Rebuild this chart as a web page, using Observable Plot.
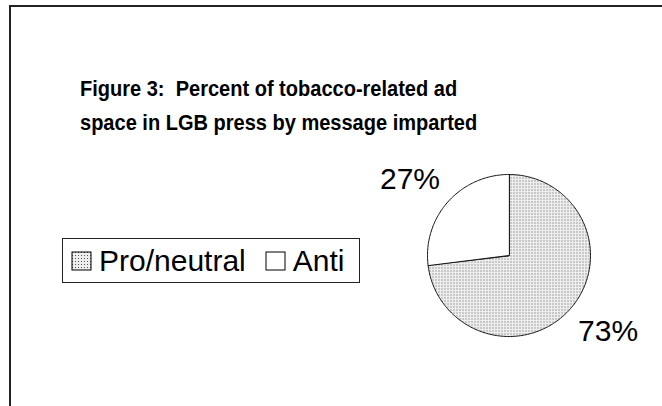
<!DOCTYPE html>
<html><head><meta charset="utf-8">
<script src="https://cdn.jsdelivr.net/npm/d3@7"></script>
<script src="https://cdn.jsdelivr.net/npm/@observablehq/plot@0.6"></script>
<style>
html,body{margin:0;padding:0;background:#fff;overflow:hidden;}
#wrap{position:relative;width:662px;height:406px;font-family:"Liberation Sans",Arial,sans-serif;}
#wrap > svg{position:absolute;left:0;top:0;}
#frame{position:absolute;left:9px;top:5px;width:700px;height:450px;border-top:2px solid #222;border-left:2px solid #222;box-sizing:border-box;}
#title{position:absolute;left:80px;top:72px;font-weight:bold;font-size:22px;line-height:34px;white-space:pre;color:#000;transform:scaleX(0.91);transform-origin:0 0;}
#legendbox{position:absolute;left:62px;top:238px;width:298px;height:45px;border:1px solid #222;box-sizing:border-box;padding-left:9px;overflow:visible;}
#legendbox > div{position:absolute;left:9px;top:0;height:43px;width:400px;display:flex !important;flex-wrap:nowrap !important;align-items:center !important;white-space:nowrap;margin:0 !important;min-height:0 !important;}
.lg-swatch{margin-right:20px !important;white-space:nowrap;}
.lg-swatch > svg{margin-right:8px !important;overflow:visible;flex-shrink:0;}
.lg-swatch svg rect{stroke:#000;stroke-width:1px;}
</style>
</head><body>
<div id="wrap"></div>
<script>
const categories = ["Pro/neutral", "Anti"];
const percents = [73, 27];
const labelTexts = ["73%", "27%"];
const titleLines = ["Figure 3:  Percent of tobacco-related ad", "space in LGB press by message imparted"];

const total = d3.sum(percents);
let acc = 0;
const slices = categories.map((c, i) => {
  const a0 = acc / total * 2 * Math.PI;
  acc += percents[i];
  const a1 = acc / total * 2 * Math.PI;
  return {c, a0, a1, label: labelTexts[i]};
});
const pts = [];
for (const s of slices) {
  pts.push({c: s.c, x: 0, y: 0});
  const n = Math.max(2, Math.ceil((s.a1 - s.a0) / (Math.PI / 180)));
  for (let k = 0; k <= n; k++) {
    const a = s.a0 + (s.a1 - s.a0) * k / n;
    pts.push({c: s.c, x: Math.sin(a), y: Math.cos(a)});
  }
}

const chart = Plot.plot({
  width: 662, height: 406,
  marginLeft: 427, marginRight: 72, marginTop: 174, marginBottom: 70,
  x: {domain: [-1, 1], axis: null},
  y: {domain: [-1, 1], axis: null},
  color: {domain: categories, range: ["url(#dots)", "#ffffff"]},
  style: {background: "transparent", overflow: "visible", fontFamily: "'Liberation Sans', Arial, sans-serif"},
  marks: [
    Plot.line(pts, {x: "x", y: "y", z: "c", fill: "c", stroke: "#111", strokeWidth: 1, curve: "linear-closed"}),
    Plot.text(slices, {
      x: d => 1.62 * Math.sin((d.a0 + d.a1) / 2),
      y: d => 1.42 * Math.cos((d.a0 + d.a1) / 2),
      text: "label", fontSize: 30, fill: "#000"
    })
  ]
});
const svg = d3.select(chart);
const defs = svg.insert("defs", ":first-child");
const pat = defs.append("pattern").attr("id", "dots").attr("patternUnits", "userSpaceOnUse").attr("width", 3).attr("height", 3);
pat.append("rect").attr("width", 3).attr("height", 3).attr("fill", "#eeeeee");
pat.append("rect").attr("width", 1).attr("height", 1).attr("fill", "#555555");

const wrap = document.getElementById("wrap");
wrap.appendChild(chart);

const frame = document.createElement("div");
frame.id = "frame";
wrap.appendChild(frame);

const title = document.createElement("div");
title.id = "title";
title.textContent = titleLines.join("\n");
wrap.appendChild(title);

const box = document.createElement("div");
box.id = "legendbox";
const leg = chart.legend("color", {
  className: "lg", swatchWidth: 19, swatchHeight: 18,
  style: {fontSize: "30px", fontFamily: "'Liberation Sans', Arial, sans-serif", color: "#000"}
});
box.appendChild(leg);
wrap.appendChild(box);
</script>
</body></html>
